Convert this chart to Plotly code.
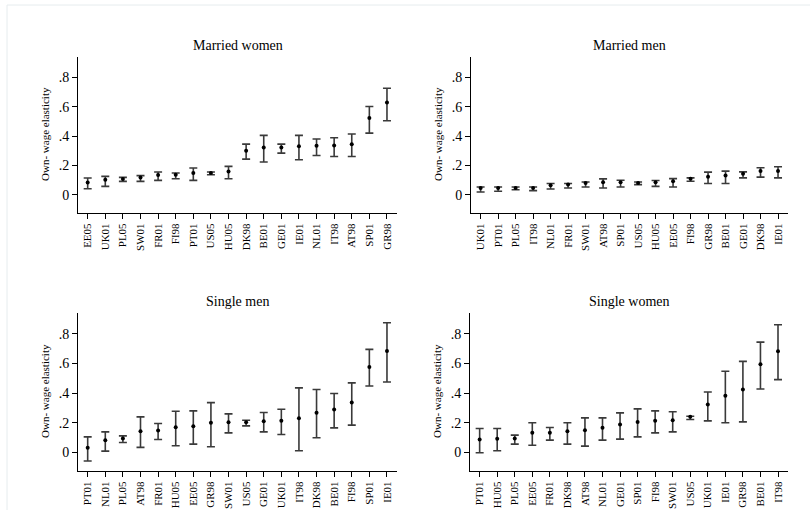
import plotly.graph_objects as go

W, H = 810, 510

mw_cat = ["EE05","UK01","PL05","SW01","FR01","FI98","PT01","US05","HU05","DK98","BE01","GE01","IE01","NL01","IT98","AT98","SP01","GR98"]
mw_est = [0.084,0.102,0.107,0.118,0.134,0.136,0.148,0.148,0.159,0.300,0.323,0.323,0.330,0.334,0.336,0.345,0.523,0.630]
mw_lo  = [0.041,0.057,0.091,0.091,0.098,0.109,0.098,0.136,0.109,0.243,0.223,0.284,0.239,0.268,0.261,0.261,0.420,0.505]
mw_hi  = [0.114,0.125,0.118,0.130,0.155,0.148,0.182,0.155,0.193,0.345,0.405,0.345,0.405,0.380,0.389,0.414,0.602,0.727]

mm_cat = ["UK01","PT01","PL05","IT98","NL01","FR01","SW01","AT98","SP01","US05","HU05","EE05","FI98","GR98","BE01","GE01","DK98","IE01"]
mm_est = [0.046,0.046,0.046,0.046,0.064,0.069,0.080,0.085,0.085,0.080,0.085,0.092,0.108,0.122,0.131,0.143,0.161,0.161]
mm_lo  = [0.018,0.023,0.034,0.028,0.039,0.046,0.053,0.046,0.053,0.069,0.057,0.053,0.092,0.076,0.076,0.115,0.120,0.115]
mm_hi  = [0.053,0.053,0.053,0.053,0.076,0.076,0.087,0.108,0.099,0.087,0.097,0.110,0.115,0.154,0.161,0.156,0.184,0.191]

sm_cat = ["PT01","NL01","PL05","AT98","FR01","HU05","EE05","GR98","SW01","US05","GE01","UK01","IT98","DK98","BE01","FI98","SP01","IE01"]
sm_est = [0.031,0.083,0.094,0.143,0.148,0.170,0.177,0.200,0.204,0.204,0.211,0.213,0.231,0.267,0.289,0.336,0.576,0.684]
sm_lo  = [-0.058,0.009,0.067,0.034,0.087,0.045,0.056,0.038,0.132,0.179,0.139,0.121,0.011,0.099,0.166,0.184,0.448,0.475]
sm_hi  = [0.105,0.139,0.112,0.240,0.195,0.278,0.280,0.336,0.260,0.217,0.269,0.291,0.435,0.424,0.397,0.469,0.695,0.874]

sw_cat = ["PT01","HU05","PL05","EE05","FR01","DK98","AT98","NL01","GE01","SP01","FI98","SW01","US05","UK01","IE01","GR98","BE01","IT98"]
sw_est = [0.087,0.092,0.094,0.132,0.132,0.143,0.150,0.166,0.188,0.206,0.213,0.217,0.240,0.323,0.383,0.424,0.594,0.682]
sw_lo  = [-0.002,0.011,0.056,0.049,0.083,0.056,0.043,0.083,0.090,0.105,0.132,0.139,0.222,0.213,0.200,0.206,0.428,0.491]
sw_hi  = [0.161,0.161,0.117,0.200,0.168,0.200,0.233,0.233,0.267,0.294,0.280,0.274,0.244,0.408,0.547,0.614,0.744,0.861]

titles = ["Married women", "Married men", "Single men", "Single women"]
ytick_vals = [0, 0.2, 0.4, 0.6, 0.8]
ytick_text = ["0", ".2", ".4", ".6", ".8"]
ytitle = "Own- wage elasticity"

panels = [(mw_cat, mw_est, mw_lo, mw_hi), (mm_cat, mm_est, mm_lo, mm_hi),
          (sm_cat, sm_est, sm_lo, sm_hi), (sw_cat, sw_est, sw_lo, sw_hi)]

# pixel layout: (x_left, x_right, y_top, y_bottom)
boxes = [(78, 397, 57, 213), (471, 788, 57, 213),
         (78, 397, 313, 471), (470, 788, 313, 471)]

font_fam = "Liberation Serif"
fig = go.Figure()
layout = dict(width=W, height=H, margin=dict(l=0, r=0, t=0, b=0),
              plot_bgcolor="white", paper_bgcolor="white", showlegend=False,
              font=dict(family=font_fam, color="black"))
annotations = []
for i, ((cat, est, lo, hi), (xl, xr, yt, yb)) in enumerate(zip(panels, boxes)):
    n = i + 1
    xa = "x" if n == 1 else f"x{n}"
    ya = "y" if n == 1 else f"y{n}"
    plus = [h - e for h, e in zip(hi, est)]
    minus = [e - l for e, l in zip(est, lo)]
    idx = list(range(len(cat)))
    fig.add_trace(go.Scatter(
        x=idx, y=est, mode="markers", xaxis=xa, yaxis=ya,
        marker=dict(color="black", size=4),
        error_y=dict(type="data", symmetric=False, array=plus, arrayminus=minus,
                     color="#3a3a3a", thickness=1.6, width=4),
    ))
    xkey = "xaxis" if n == 1 else f"xaxis{n}"
    ykey = "yaxis" if n == 1 else f"yaxis{n}"
    layout[xkey] = dict(domain=[xl / W, xr / W], anchor=ya, range=[-0.55, 17.57],
                        tickvals=idx, ticktext=cat, tickangle=-90,
                        ticks="outside", ticklen=5, tickcolor="black",
                        showline=True, linecolor="black", linewidth=1,
                        showgrid=False, zeroline=False,
                        tickfont=dict(family=font_fam, size=11))
    layout[ykey] = dict(domain=[1 - yb / H, 1 - yt / H], anchor=xa, range=[-0.125, 0.94],
                        tickvals=ytick_vals, ticktext=ytick_text,
                        ticks="outside", ticklen=5, tickcolor="black",
                        showline=True, linecolor="black", linewidth=1,
                        showgrid=False, zeroline=False,
                        tickfont=dict(family=font_fam, size=14))
    annotations.append(dict(text=titles[i], xref="paper", yref="paper",
                            x=(xl + xr) / 2 / W, y=1 - (yt - 12) / H,
                            xanchor="center", yanchor="middle", showarrow=False,
                            font=dict(family=font_fam, size=14)))
    annotations.append(dict(text=ytitle, xref="paper", yref="paper",
                            x=(xl - 33) / W, y=1 - ((yt + yb) / 2 - 1) / H,
                            xanchor="center", yanchor="middle", showarrow=False,
                            textangle=-90, font=dict(family=font_fam, size=11)))
layout["annotations"] = annotations
layout["shapes"] = [dict(type="rect", xref="paper", yref="paper",
                         x0=7 / W, x1=1.02, y0=-0.02, y1=1 - 5 / H,
                         line=dict(color="#e6ecee", width=1))]
fig.update_layout(**layout)
fig.write_html("out.html")
